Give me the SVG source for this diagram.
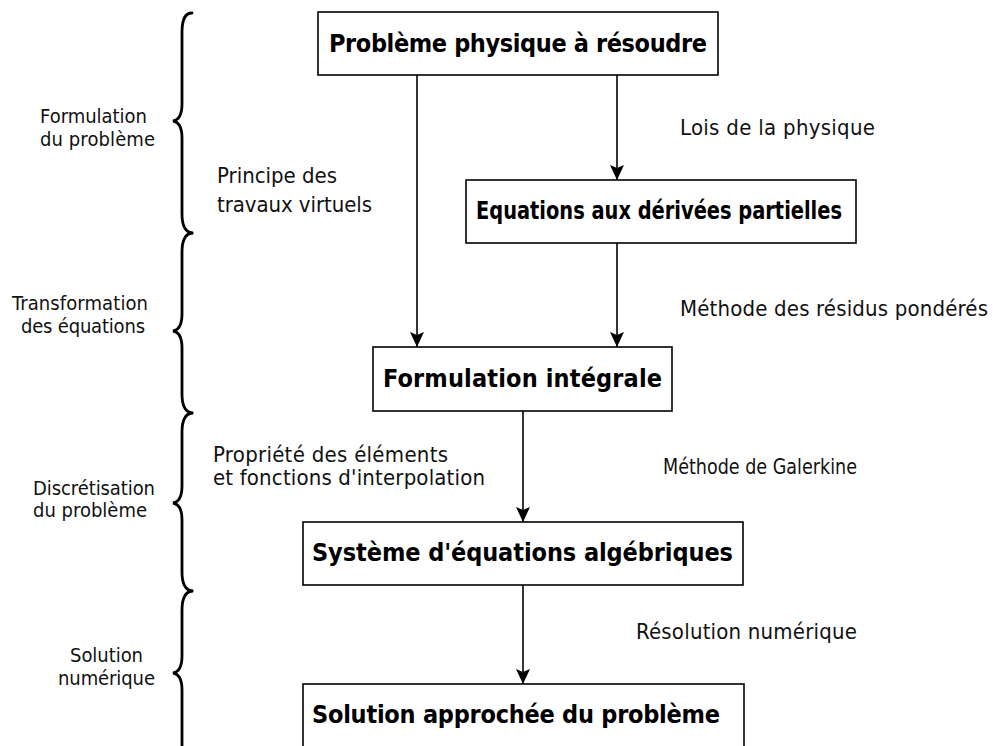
<svg xmlns="http://www.w3.org/2000/svg" width="993" height="746" viewBox="0 0 993 746">
<style>
  .box{fill:#fff;stroke:#000;stroke-width:1.6}
  .bt{font-family:"DejaVu Sans Condensed","DejaVu Sans",sans-serif;font-stretch:condensed;font-weight:bold;font-size:25px;fill:#000}
  .lt{font-family:"DejaVu Sans Condensed","DejaVu Sans",sans-serif;font-stretch:condensed;font-size:22px;fill:#111}
  .st{font-family:"DejaVu Sans Condensed","DejaVu Sans",sans-serif;font-stretch:condensed;font-size:20px;fill:#111}
  .edge{stroke:#000;stroke-width:1.6;fill:none;marker-end:url(#ah)}
  .brace{stroke:#000;stroke-width:2.8;fill:none;stroke-linecap:round}
</style>
<defs>
  <marker id="ah" markerUnits="userSpaceOnUse" markerWidth="16" markerHeight="16" refX="15" refY="7" orient="auto">
    <path d="M0,0 L15,7 L0,14 L3,7 z" fill="#000"/>
  </marker>
</defs>
<rect width="993" height="746" fill="#fff"/>

<g id="braces">
  <path class="brace" d="M192,13 C185,13 182,20 182,32 L182,104 C182,114 179,120 173,121 C179,122 182,128 182,138 L182,214 C182,226 185,232 192,233"/>
  <path class="brace" d="M192,233 C185,234 182,240 182,252 L182,314 C182,324 179,330 173,331 C179,332 182,338 182,348 L182,394 C182,406 185,412 192,413"/>
  <path class="brace" d="M192,413 C185,414 182,420 182,432 L182,486 C182,496 179,502 173,503 C179,504 182,510 182,520 L182,572 C182,584 185,590 192,591"/>
  <path class="brace" d="M192,591 C185,592 182,598 182,610 L182,656 C182,666 179,672 173,673 C179,674 182,680 182,690 L182,760"/>
</g>

<g id="side-labels">
  <text class="st" x="40" y="123" textLength="107">Formulation</text>
  <text class="st" x="40" y="146" textLength="115">du problème</text>
  <text class="st" x="12" y="310" textLength="136">Transformation</text>
  <text class="st" x="21" y="333" textLength="124">des équations</text>
  <text class="st" x="33" y="495" textLength="122">Discrétisation</text>
  <text class="st" x="33" y="517" textLength="114">du problème</text>
  <text class="st" x="70" y="662" textLength="73">Solution</text>
  <text class="st" x="58" y="685" textLength="97">numérique</text>
</g>

<g id="connectors">
  <line class="edge" x1="417" y1="75" x2="417" y2="347"/>
  <line class="edge" x1="617" y1="75" x2="617" y2="180"/>
  <line class="edge" x1="617" y1="243" x2="617" y2="347"/>
  <line class="edge" x1="523" y1="411" x2="523" y2="522"/>
  <line class="edge" x1="523" y1="585" x2="523" y2="684"/>
  <text class="lt" x="680" y="135" textLength="195">Lois de la physique</text>
  <text class="lt" x="217" y="183" textLength="120">Principe des</text>
  <text class="lt" x="217" y="212" textLength="155">travaux virtuels</text>
  <text class="lt" x="680" y="316" textLength="308">Méthode des résidus pondérés</text>
  <text class="lt" x="213" y="462" textLength="235">Propriété des éléments</text>
  <text class="lt" x="213" y="485" textLength="272">et fonctions d'interpolation</text>
  <text class="lt" x="663" y="474" style="font-size:21px" textLength="194" lengthAdjust="spacingAndGlyphs">Méthode de Galerkine</text>
  <text class="lt" x="636" y="639" textLength="221">Résolution numérique</text>
</g>

<g id="n1">
  <rect class="box" x="318" y="12" width="400" height="63"/>
  <text class="bt" x="329" y="52" textLength="378">Problème physique à résoudre</text>
</g>
<g id="n2">
  <rect class="box" x="466" y="180" width="390" height="63"/>
  <text class="bt" x="476" y="219" style="font-size:24px" textLength="366" lengthAdjust="spacingAndGlyphs">Equations aux dérivées partielles</text>
</g>
<g id="n3">
  <rect class="box" x="373" y="347" width="299" height="64"/>
  <text class="bt" x="383" y="387" textLength="279">Formulation intégrale</text>
</g>
<g id="n4">
  <rect class="box" x="303" y="522" width="440" height="63"/>
  <text class="bt" x="312" y="561" textLength="421">Système d'équations algébriques</text>
</g>
<g id="n5">
  <rect class="box" x="303" y="684" width="441" height="70"/>
  <text class="bt" x="312" y="723" textLength="408">Solution approchée du problème</text>
</g>
</svg>
